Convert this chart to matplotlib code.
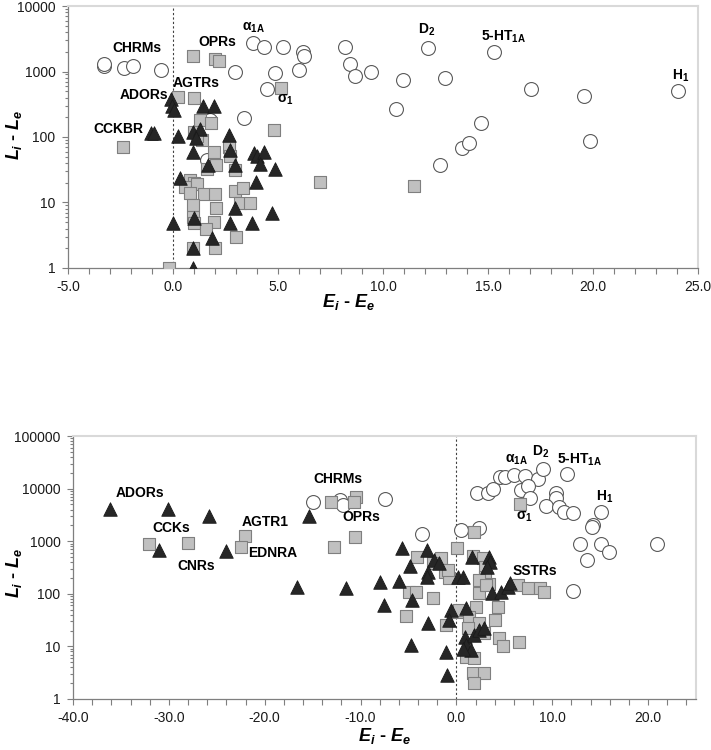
import matplotlib
matplotlib.use('Agg')
import matplotlib.pyplot as plt
from matplotlib.ticker import LogLocator, MultipleLocator, FixedLocator, NullFormatter, FuncFormatter

plt.rcParams['font.family'] = ['Liberation Sans', 'DejaVu Sans']
plt.rcParams['mathtext.fontset'] = 'custom'
plt.rcParams['mathtext.rm'] = 'Liberation Sans'
plt.rcParams['mathtext.it'] = 'Liberation Sans:italic:bold'
plt.rcParams['mathtext.bf'] = 'Liberation Sans:bold'

# ---------------- Top panel data ----------------
top_circle_x = [-3.30, -3.28, -2.32, -1.92, -0.56, 3.79, 4.31, 5.22, 6.20, 6.26, 2.95, 4.84, 6.01,
                4.49, 3.40, 1.78, 1.60, 8.20, 8.44, 8.68, 9.43, 10.97, 10.62, 12.16, 12.93, 12.71,
                13.78, 14.08, 14.68, 15.30, 17.07, 19.57, 19.86, 24.05]
top_circle_y = [1213, 1290, 1130, 1200, 1069, 2720, 2366, 2350, 1983, 1706, 972, 948, 1043,
                541, 198, 180, 44, 2400, 1320, 845, 984, 752, 263, 2313, 796, 38,
                67, 80, 166, 2011, 548, 424, 88, 505]

top_square_x = [0.95, 1.98, 2.17, 5.12, 0.24, 1.01, -2.38, 4.82, 7.00, -0.18, 11.49,
                1.30, 1.81, 0.98, 1.38, 1.14, 1.93, 2.68, 2.73, 1.62, 2.06, 2.97,
                0.82, 0.98, 0.59, 1.14, 0.82, 1.46, 1.98, 2.97, 3.32, 3.17, 3.68,
                0.95, 0.95, 2.06, 1.93, 0.98, 1.59, 2.98, 0.95, 1.98]
top_square_y = [1747, 1574, 1446, 561, 408, 390, 70, 130, 20.7, 1.0, 17.8,
                185, 161, 120, 89, 105, 59, 71, 52, 33, 37, 31,
                22, 20, 17.4, 19.5, 13.8, 13.3, 13.3, 15, 16.7, 9.9, 9.9,
                9.1, 6.1, 8.1, 5.1, 4.8, 3.9, 3.0, 2.0, 2.0]

top_tri_x = [-0.08, -0.04, 0.03, -1.03, -0.89, 0.22, 1.43, 1.93, 0.95, 1.30, 1.11, 0.93, 1.65,
             2.67, 2.73, 2.97, 3.84, 4.00, 4.35, 4.16, 4.87, 0.35, 3.97, -0.02, 0.98, 2.93,
             2.73, 3.76, 4.71, 1.86, 0.93, 0.93]
top_tri_y = [386, 295, 262, 115, 115, 103, 295, 295, 120, 134, 98, 59, 37,
             107, 63, 37, 56, 52, 59, 39, 32, 23.3, 20.7, 4.8, 5.7, 8.1,
             4.8, 4.8, 6.8, 2.9, 2.0, 1.0]

top_xticks = [-5.0, 0.0, 5.0, 10.0, 15.0, 20.0, 25.0]
top_yticks = [1, 10, 100, 1000, 10000]

# ---------------- Bottom panel data ----------------
bot_circle_x = [-14.97, -12.19, -11.84, -7.45, -3.60, 0.49, 2.33, 2.12, 3.33, 3.85, 4.58, 5.03,
                6.01, 7.12, 8.47, 9.06, 6.74, 7.43, 7.64, 10.35, 10.35, 9.34, 10.73, 11.28,
                12.19, 11.49, 15.07, 14.27, 14.10, 12.92, 15.07, 15.94, 13.65, 20.90, 12.19]
bot_circle_y = [5650, 6070, 4870, 6270, 1371, 1633, 1760, 8130, 8130, 9700, 16400, 16900,
                18100, 17600, 15000, 23600, 9400, 11200, 6700, 8350, 6530, 4670, 4530, 3640,
                3480, 18900, 3640, 2030, 1840, 873, 885, 631, 439, 885, 115]

bot_square_x = [-32.05, -27.95, -22.01, -22.47, -13.05, -12.78, -10.45, -10.73, -10.63, 6.60,
                1.88, 0.03, -4.14, -1.61, -2.47, -1.15, -0.73, 1.70, 2.74, 2.99, 2.99, 3.37,
                2.33, -4.90, -4.20, -2.40, -5.24, -1.11, 0.03, 2.05, 4.30, 4.06, 6.39, 7.43,
                8.72, 9.17, 4.48, 4.90, 6.56, 1.01, 1.88, 1.70, 2.92, 1.88,
                0.31, 1.35, 2.40, 1.18, 2.92, 2.40, 3.09, -0.89]
bot_square_y = [885, 937, 1256, 787, 5650, 765, 6830, 5650, 1220, 5100,
                1476, 753, 494, 473, 380, 263, 197, 523, 473, 327, 211, 154,
                105, 110, 110, 82, 38, 25.5, 46, 57, 57, 32, 147, 127,
                127, 110, 14.2, 10.2, 12.3, 6.4, 5.9, 3.1, 3.1, 2.0,
                49, 37, 27.5, 22, 17.7, 183, 147, 282]

bot_tri_x = [-36.15, -30.14, -25.83, -31.00, -23.99, -16.64, -15.42, -11.49, -8.02, -6.01,
             -7.60, -5.66, -4.79, -4.62, -4.73, -3.10, -3.00, -3.10, -2.29, -1.84, -3.00,
             -1.08, -1.01, 0.14, 0.66, -0.55, -0.73, 1.01, 1.64, 3.37, 3.52, 3.16, 3.72,
             4.65, 5.34, 5.59, 0.94, 1.01, 1.53, 1.88, 2.40, 2.92, 0.66]
bot_tri_y = [4040, 4150, 3015, 681, 660, 133, 3060, 127, 170, 178,
             60, 733, 343, 76, 10.6, 681, 263, 211, 439, 391, 28,
             7.9, 2.9, 211, 211, 49, 32, 53, 508, 508, 407, 327, 102,
             110, 137, 163, 15.3, 10.6, 8.5, 16.5, 20.5, 22, 8.8]

bot_xticks = [-40.0, -30.0, -20.0, -10.0, 0.0, 10.0, 20.0]
bot_yticks = [1, 10, 100, 1000, 10000, 100000]

# ---------------- Styles ----------------
CIRC = dict(marker='o', s=100, facecolor='white', edgecolor='#5a5a5a', linewidths=0.8, zorder=3)
SQR = dict(marker='s', s=85, facecolor='#c0c0c0', edgecolor='#7f7f7f', linewidths=0.8, zorder=4)
TRI = dict(marker='^', s=95, facecolor='#262626', edgecolor='#1a1a1a', linewidths=0.6, zorder=5)
LBL = dict(fontsize=10, fontweight='bold', ha='center', va='center', zorder=6)

fig = plt.figure(figsize=(7.11, 7.5), dpi=100)
ax1 = fig.add_axes([68/711, 1-268/750, 630/711, 262/750])
ax2 = fig.add_axes([73/711, 1-699/750, 623/711, 263/750])


def style(ax, xticks, yticks, xminor):
    ax.set_yscale('log')
    ax.set_ylim(yticks[0], yticks[-1])
    ax.xaxis.set_major_locator(FixedLocator(xticks))
    ax.xaxis.set_minor_locator(MultipleLocator(xminor))
    ax.xaxis.set_major_formatter(FuncFormatter(lambda v, p: f'{v:.1f}'))
    ax.yaxis.set_major_locator(FixedLocator(yticks))
    ax.yaxis.set_minor_locator(LogLocator(base=10, subs=range(2, 10)))
    ax.yaxis.set_minor_formatter(NullFormatter())
    ax.yaxis.set_major_formatter(FuncFormatter(lambda v, p: f'{v:g}'))
    for s in ['left', 'bottom']:
        ax.spines[s].set_color('#7f7f7f')
        ax.spines[s].set_linewidth(0.9)
    for s in ['top', 'right']:
        ax.spines[s].set_color('#d9d9d9')
        ax.spines[s].set_linewidth(1.5)
    ax.tick_params(which='both', direction='out', color='#7f7f7f', width=0.8,
                   labelsize=10, labelcolor='#1a1a1a', pad=5)
    ax.tick_params(which='major', length=4)
    ax.tick_params(axis='x', which='minor', length=4)
    ax.tick_params(axis='y', which='minor', length=2.5)
    ax.axvline(0, color='#404040', ls=(0, (2, 2)), lw=0.8, zorder=1)


style(ax1, top_xticks, top_yticks, 1.0)
style(ax2, bot_xticks, bot_yticks, 2.0)
ax1.set_xlim(-5, 25)
ax2.set_xlim(-40, 25)

ax1.scatter(top_circle_x, top_circle_y, **CIRC)
ax1.scatter(top_square_x, top_square_y, **SQR)
ax1.scatter(top_tri_x, top_tri_y, **TRI)

ax2.scatter(bot_circle_x, bot_circle_y, **CIRC)
ax2.scatter(bot_square_x, bot_square_y, **SQR)
ax2.scatter(bot_tri_x, bot_tri_y, **TRI)

# Labels top
ax1.text(-1.7, 2259, 'CHRMs', **LBL)
ax1.text(2.11, 2790, 'OPRs', **LBL)
ax1.text(3.82, 4720, 'α$_{\\mathbf{1A}}$', **LBL)
ax1.text(1.11, 661, 'AGTRs', **LBL)
ax1.text(-1.37, 434, 'ADORs', **LBL)
ax1.text(5.35, 364, 'σ$_{\\mathbf{1}}$', **LBL)
ax1.text(-2.6, 131, 'CCKBR', **LBL)
ax1.text(12.06, 4400, 'D$_{\\mathbf{2}}$', **LBL)
ax1.text(15.73, 3440, '5-HT$_{\\mathbf{1A}}$', **LBL)
ax1.text(24.16, 845, 'H$_{\\mathbf{1}}$', **LBL)

# Labels bottom
ax2.text(-33.0, 8140, 'ADORs', **LBL)
ax2.text(-29.72, 1760, 'CCKs', **LBL)
ax2.text(-27.19, 338, 'CNRs', **LBL)
ax2.text(-20.0, 2350, 'AGTR1', **LBL)
ax2.text(-19.2, 604, 'EDNRA', **LBL)
ax2.text(-12.36, 15000, 'CHRMs', **LBL)
ax2.text(-9.93, 2920, 'OPRs', **LBL)
ax2.text(6.22, 35000, 'α$_{\\mathbf{1A}}$', **LBL)
ax2.text(8.82, 50300, 'D$_{\\mathbf{2}}$', **LBL)
ax2.text(12.81, 35000, '5-HT$_{\\mathbf{1A}}$', **LBL)
ax2.text(15.42, 7020, 'H$_{\\mathbf{1}}$', **LBL)
ax2.text(7.08, 2920, 'σ$_{\\mathbf{1}}$', **LBL)
ax2.text(8.23, 271, 'SSTRs', **LBL)

# Axis labels
for ax in (ax1, ax2):
    ax.set_xlabel('$E_i$ - $E_e$', fontsize=13, fontweight='bold')
    ax.set_ylabel('$L_i$ - $L_e$', fontsize=13, fontweight='bold')
ax1.xaxis.set_label_coords((348 - 68) / 630, -24 / 262)
ax1.yaxis.set_label_coords(-44 / 630, 0.51)
ax2.xaxis.set_label_coords(0.5, -27 / 263)
ax2.yaxis.set_label_coords(-49 / 623, 0.48)

fig.savefig('out.png', dpi=100)
